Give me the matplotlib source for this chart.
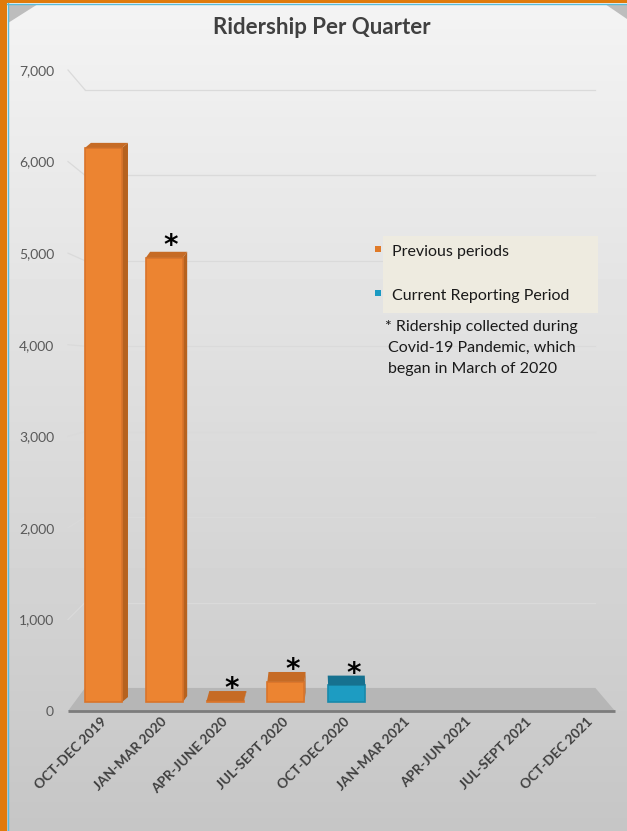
import numpy as np
import matplotlib.pyplot as plt
from matplotlib.patches import Polygon, Rectangle

quarters = ["OCT-DEC 2019", "JAN-MAR 2020", "APR-JUNE 2020", "JUL-SEPT 2020",
            "OCT-DEC 2020", "JAN-MAR 2021", "APR-JUN 2021", "JUL-SEPT 2021",
            "OCT-DEC 2021"]
riders = [6150, 4950, 110, 320, 280]
is_current = [False, False, False, False, True]
covid_flag = [False, True, True, True, True]
yticks = [0, 1000, 2000, 3000, 4000, 5000, 6000, 7000]
note_lines = ["* Ridership collected during", "Covid-19 Pandemic, which",
              "began in March of 2020"]

W, H = 627, 831
plt.rcParams['font.family'] = ['Lato', 'DejaVu Sans']

# fake 3D: the back wall is a scaled copy of the front plane around a vanishing point
VP = (3.68, 3757)
BACK = 0.933
BASE = 98


def back(x, y):
    return VP[0] + (x - VP[0]) * BACK, VP[1] + (y - VP[1]) * BACK


fig = plt.figure(figsize=(W / 100, H / 100), dpi=100)

# background gradient
bg = fig.add_axes([0, 0, 1, 1], zorder=0)
grad = np.linspace(0.955, 0.775, 256)[:, None] * np.ones((1, 4))
bg.imshow(grad, cmap='gray', vmin=0, vmax=1, aspect='auto', extent=[0, 1, 0, 1])
bg.axis('off')

ax = fig.add_axes([68 / W, 1 - 711 / H, 547 / W, 641 / H], zorder=1)
ax.patch.set_alpha(0)
ax.set_xlim(-0.5, 8.5)
ax.set_ylim(0, 7000)
for s in ax.spines.values():
    s.set_visible(False)

# back wall gridlines plus the left wall diagonals
for v in yticks[1:]:
    x0, y0 = back(-0.5, v)
    x1, y1 = back(8.5, v)
    ax.plot([x0, x1], [y0, y1], color='#dadada', lw=0.9, clip_on=False, zorder=0.3)
    ax.plot([-0.5, x0], [v, y0], color='#dadada', lw=0.9, clip_on=False, zorder=0.3)

# floor
bl = back(-0.5, 0)
br = back(8.5, 0)
ax.add_patch(Polygon([(-0.5, 0), (8.5, 0), br, bl], closed=True,
                     facecolor='#b6b6b6', edgecolor='none', clip_on=False,
                     zorder=0.5))
ax.plot([-0.5, 8.5], [0, 0], color='#7c7c7c', lw=2, clip_on=False,
        solid_capstyle='butt', zorder=0.6)

w = 0.61
for i, v in enumerate(riders):
    xc = i + 0.085
    if is_current[i]:
        front, edge, side, top = '#1d9cc2', '#1889ab', '#136f8b', '#16718f'
    else:
        front, edge, side, top = '#ec8431', '#d9742a', '#b6621f', '#c66b25'
    dx = 0.026 * (3.81 - xc)
    dy = 109 - 0.0089 * v
    xl, xr = xc - w / 2, xc + w / 2
    if dx > 0:
        ax.add_patch(Polygon([(xr, BASE), (xr, v), (xr + dx, v + dy),
                              (xr + dx, BASE + dy)], closed=True,
                             facecolor=side, edgecolor='none', clip_on=False))
    ax.bar(xc, v - BASE, bottom=BASE, width=w, color=front, edgecolor=edge,
           linewidth=1.2, clip_on=False)
    ax.add_patch(Polygon([(xl, v), (xr, v), (xr + dx, v + dy), (xl + dx, v + dy)],
                         closed=True, facecolor=top, edgecolor='none',
                         clip_on=False))
    if covid_flag[i]:
        ax.text(xc + 0.11, v + 125, '*', ha='center', va='center',
                fontsize=20, fontweight='bold', color='black',
                family='DejaVu Sans')

ax.set_yticks(yticks)
ax.set_yticklabels([f"{t:,}" for t in yticks], fontsize=10, color='#595959')
ax.set_xticks(np.arange(len(quarters)) + 0.03)
ax.set_xticklabels(quarters, rotation=45, ha='right', rotation_mode='anchor',
                   fontsize=9.8, fontweight='bold', color='#404040')
ax.tick_params(length=0)
ax.tick_params(axis='y', pad=10)
ax.tick_params(axis='x', pad=3)

# overlay in pixel coordinates: frame, title, legend
ov = fig.add_axes([0, 0, 1, 1], zorder=2)
ov.set_xlim(0, W)
ov.set_ylim(H, 0)
ov.axis('off')
ov.patch.set_alpha(0)

ov.add_patch(Polygon([(8, 4), (38, 4), (8, 23)], closed=True,
                     facecolor='#bdbdbd', edgecolor='none'))
ov.add_patch(Polygon([(605, 4), (627, 4), (627, 19)], closed=True,
                     facecolor='#bdbdbd', edgecolor='none'))
ov.add_patch(Rectangle((0, 0), W, 3, facecolor='#e07b0c', edgecolor='none'))
ov.add_patch(Rectangle((0, 0), 7, H, facecolor='#e07b0c', edgecolor='none'))
ov.plot([7, W], [3.5, 3.5], color='#5bbbd8', lw=1)
ov.plot([7.5, 7.5], [3, H], color='#5bbbd8', lw=1)

ov.text(322, 28, "Ridership Per Quarter", ha='center', va='center',
        fontsize=16, fontweight='bold', color='#404040')

ov.add_patch(Rectangle((383, 236), 215, 77, facecolor='#eeebe0', edgecolor='none'))
ov.add_patch(Rectangle((375, 246), 6, 6, facecolor='#e07a28', edgecolor='none'))
ov.add_patch(Rectangle((375, 290), 6, 6, facecolor='#1b9ac2', edgecolor='none'))
ov.text(392, 252, "Previous periods", ha='left', va='center', fontsize=11.5,
        color='#1a1a1a')
ov.text(392, 296, "Current Reporting Period", ha='left', va='center',
        fontsize=11.5, color='#1a1a1a')
for k, line in enumerate(note_lines):
    ov.text(385 if k == 0 else 388, 327 + 21 * k, line, ha='left', va='center',
            fontsize=11.5, color='#1a1a1a')

fig.savefig('out.png', dpi=100)
